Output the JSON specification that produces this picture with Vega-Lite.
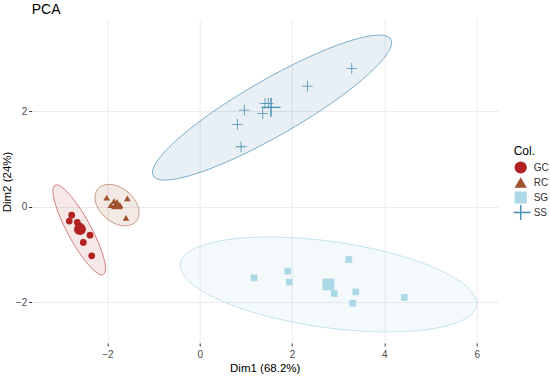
{
  "$schema": "https://vega.github.io/schema/vega-lite/v6.json",
  "autosize": {"type": "none"},
  "padding": {"left": 31.7, "top": 20, "right": 52.3, "bottom": 35},
  "width": 466,
  "height": 323,
  "background": "white",
  "view": {"stroke": null},
  "config": {
    "font": "Liberation Sans",
    "axis": {
      "domain": false,
      "grid": true,
      "gridColor": "#EBEBEB",
      "gridWidth": 1,
      "tickColor": "#333333",
      "tickSize": 3,
      "labelFont": "Liberation Sans",
      "labelFontSize": 10,
      "labelColor": "#4D4D4D",
      "titleFont": "Liberation Sans",
      "titleFontSize": 11.5,
      "titleFontWeight": "normal",
      "titleColor": "#000000"
    },
    "legend": {
      "titleFont": "Liberation Sans",
      "titleFontSize": 12,
      "titleFontWeight": "normal",
      "titleColor": "#000000",
      "labelFont": "Liberation Sans",
      "labelFontSize": 10,
      "labelColor": "#333333"
    }
  },
  "title": {
    "text": "PCA",
    "anchor": "start",
    "frame": "group",
    "font": "Liberation Sans",
    "fontSize": 14,
    "fontWeight": 400,
    "color": "#000000",
    "offset": 3
  },
  "datasets": {
    "ell": [
      {"group": "GC", "i": 0, "x": -2.088, "y": -1.417},
      {"group": "GC", "i": 1, "x": -2.041, "y": -1.301},
      {"group": "GC", "i": 2, "x": -2.082, "y": -1.060},
      {"group": "GC", "i": 3, "x": -2.203, "y": -0.732},
      {"group": "GC", "i": 4, "x": -2.386, "y": -0.365},
      {"group": "GC", "i": 5, "x": -2.604, "y": -0.016},
      {"group": "GC", "i": 6, "x": -2.822, "y": 0.262},
      {"group": "GC", "i": 7, "x": -3.009, "y": 0.427},
      {"group": "GC", "i": 8, "x": -3.134, "y": 0.453},
      {"group": "GC", "i": 9, "x": -3.181, "y": 0.337},
      {"group": "GC", "i": 10, "x": -3.140, "y": 0.096},
      {"group": "GC", "i": 11, "x": -3.019, "y": -0.232},
      {"group": "GC", "i": 12, "x": -2.836, "y": -0.599},
      {"group": "GC", "i": 13, "x": -2.618, "y": -0.948},
      {"group": "GC", "i": 14, "x": -2.400, "y": -1.226},
      {"group": "GC", "i": 15, "x": -2.214, "y": -1.391},
      {"group": "RC", "i": 0, "x": -1.378, "y": -0.302},
      {"group": "RC", "i": 1, "x": -1.319, "y": -0.172},
      {"group": "RC", "i": 2, "x": -1.331, "y": -0.011},
      {"group": "RC", "i": 3, "x": -1.414, "y": 0.158},
      {"group": "RC", "i": 4, "x": -1.554, "y": 0.308},
      {"group": "RC", "i": 5, "x": -1.731, "y": 0.417},
      {"group": "RC", "i": 6, "x": -1.917, "y": 0.467},
      {"group": "RC", "i": 7, "x": -2.083, "y": 0.452},
      {"group": "RC", "i": 8, "x": -2.206, "y": 0.374},
      {"group": "RC", "i": 9, "x": -2.265, "y": 0.244},
      {"group": "RC", "i": 10, "x": -2.253, "y": 0.083},
      {"group": "RC", "i": 11, "x": -2.170, "y": -0.086},
      {"group": "RC", "i": 12, "x": -2.030, "y": -0.236},
      {"group": "RC", "i": 13, "x": -1.853, "y": -0.345},
      {"group": "RC", "i": 14, "x": -1.667, "y": -0.395},
      {"group": "RC", "i": 15, "x": -1.501, "y": -0.380},
      {"group": "SG", "i": 0, "x": 5.996, "y": -2.060},
      {"group": "SG", "i": 1, "x": 5.802, "y": -1.684},
      {"group": "SG", "i": 2, "x": 5.148, "y": -1.301},
      {"group": "SG", "i": 3, "x": 4.136, "y": -0.966},
      {"group": "SG", "i": 4, "x": 2.917, "y": -0.731},
      {"group": "SG", "i": 5, "x": 1.678, "y": -0.633},
      {"group": "SG", "i": 6, "x": 0.610, "y": -0.686},
      {"group": "SG", "i": 7, "x": -0.129, "y": -0.881},
      {"group": "SG", "i": 8, "x": -0.422, "y": -1.190},
      {"group": "SG", "i": 9, "x": -0.228, "y": -1.566},
      {"group": "SG", "i": 10, "x": 0.427, "y": -1.950},
      {"group": "SG", "i": 11, "x": 1.438, "y": -2.284},
      {"group": "SG", "i": 12, "x": 2.658, "y": -2.519},
      {"group": "SG", "i": 13, "x": 3.896, "y": -2.617},
      {"group": "SG", "i": 14, "x": 4.964, "y": -2.564},
      {"group": "SG", "i": 15, "x": 5.702, "y": -2.369},
      {"group": "SS", "i": 0, "x": 4.141, "y": 3.507},
      {"group": "SS", "i": 1, "x": 4.061, "y": 3.203},
      {"group": "SS", "i": 2, "x": 3.601, "y": 2.729},
      {"group": "SS", "i": 3, "x": 2.833, "y": 2.155},
      {"group": "SS", "i": 4, "x": 1.870, "y": 1.569},
      {"group": "SS", "i": 5, "x": 0.861, "y": 1.059},
      {"group": "SS", "i": 6, "x": -0.039, "y": 0.706},
      {"group": "SS", "i": 7, "x": -0.695, "y": 0.561},
      {"group": "SS", "i": 8, "x": -1.007, "y": 0.647},
      {"group": "SS", "i": 9, "x": -0.927, "y": 0.951},
      {"group": "SS", "i": 10, "x": -0.467, "y": 1.426},
      {"group": "SS", "i": 11, "x": 0.301, "y": 1.999},
      {"group": "SS", "i": 12, "x": 1.265, "y": 2.586},
      {"group": "SS", "i": 13, "x": 2.273, "y": 3.095},
      {"group": "SS", "i": 14, "x": 3.173, "y": 3.448},
      {"group": "SS", "i": 15, "x": 3.829, "y": 3.593}
    ],
    "pts": [
      {"group": "GC", "kind": "ind", "x": -2.774, "y": -0.174},
      {"group": "GC", "kind": "ind", "x": -2.826, "y": -0.299},
      {"group": "GC", "kind": "ind", "x": -2.652, "y": -0.327},
      {"group": "GC", "kind": "ind", "x": -2.594, "y": -0.404},
      {"group": "GC", "kind": "ind", "x": -2.377, "y": -0.593},
      {"group": "GC", "kind": "ind", "x": -2.522, "y": -0.746},
      {"group": "GC", "kind": "ind", "x": -2.340, "y": -1.026},
      {"group": "RC", "kind": "ind", "x": -2.015, "y": 0.193},
      {"group": "RC", "kind": "ind", "x": -1.569, "y": 0.176},
      {"group": "RC", "kind": "ind", "x": -1.922, "y": 0.036},
      {"group": "RC", "kind": "ind", "x": -1.727, "y": 0.036},
      {"group": "RC", "kind": "ind", "x": -1.597, "y": -0.230},
      {"group": "RC", "kind": "ind", "x": -1.857, "y": 0.119},
      {"group": "SG", "kind": "ind", "x": 1.177, "y": -1.487},
      {"group": "SG", "kind": "ind", "x": 1.907, "y": -1.347},
      {"group": "SG", "kind": "ind", "x": 1.941, "y": -1.577},
      {"group": "SG", "kind": "ind", "x": 2.917, "y": -1.814},
      {"group": "SG", "kind": "ind", "x": 3.229, "y": -1.102},
      {"group": "SG", "kind": "ind", "x": 3.380, "y": -1.780},
      {"group": "SG", "kind": "ind", "x": 3.315, "y": -2.017},
      {"group": "SG", "kind": "ind", "x": 4.433, "y": -1.897},
      {"group": "SS", "kind": "ind", "x": 3.294, "y": 2.898},
      {"group": "SS", "kind": "ind", "x": 2.332, "y": 2.528},
      {"group": "SS", "kind": "ind", "x": 0.966, "y": 2.025},
      {"group": "SS", "kind": "ind", "x": 0.815, "y": 1.726},
      {"group": "SS", "kind": "ind", "x": 0.895, "y": 1.257},
      {"group": "SS", "kind": "ind", "x": 1.365, "y": 1.956},
      {"group": "SS", "kind": "ind", "x": 1.415, "y": 2.165},
      {"group": "SS", "kind": "ind", "x": 1.486, "y": 2.165},
      {"group": "GC", "kind": "mean", "x": -2.594, "y": -0.467},
      {"group": "RC", "kind": "mean", "x": -1.792, "y": 0.057},
      {"group": "SG", "kind": "mean", "x": 2.787, "y": -1.625},
      {"group": "SS", "kind": "mean", "x": 1.545, "y": 2.082}
    ]
  },
  "encoding": {
    "x": {
      "field": "x", "type": "quantitative",
      "scale": {"domain": [-3.64, 6.455], "nice": false, "zero": false},
      "axis": {"values": [-2, 0, 2, 4, 6], "title": "Dim1 (68.2%)", "labelPadding": 3, "titlePadding": 3}
    },
    "y": {
      "field": "y", "type": "quantitative",
      "scale": {"domain": [-2.85, 3.91], "nice": false, "zero": false},
      "axis": {"values": [-2, 0, 2], "title": "Dim2 (24%)", "labelPadding": 2, "titlePadding": 3}
    }
  },
  "layer": [
    {
      "data": {"name": "ell"},
      "transform": [{"filter": "datum.group === 'GC'"}],
      "mark": {"type": "line", "interpolate": "cardinal-closed", "fill": "#B22222", "fillOpacity": 0.1, "stroke": "#B22222", "strokeOpacity": 0.55, "strokeWidth": 1},
      "encoding": {"order": {"field": "i", "type": "quantitative"}}
    },
    {
      "data": {"name": "ell"},
      "transform": [{"filter": "datum.group === 'RC'"}],
      "mark": {"type": "line", "interpolate": "cardinal-closed", "fill": "#A0522D", "fillOpacity": 0.12, "stroke": "#A0522D", "strokeOpacity": 0.55, "strokeWidth": 1},
      "encoding": {"order": {"field": "i", "type": "quantitative"}}
    },
    {
      "data": {"name": "ell"},
      "transform": [{"filter": "datum.group === 'SG'"}],
      "mark": {"type": "line", "interpolate": "cardinal-closed", "fill": "#ADD8E6", "fillOpacity": 0.13, "stroke": "#ADD8E6", "strokeOpacity": 0.7, "strokeWidth": 1},
      "encoding": {"order": {"field": "i", "type": "quantitative"}}
    },
    {
      "data": {"name": "ell"},
      "transform": [{"filter": "datum.group === 'SS'"}],
      "mark": {"type": "line", "interpolate": "cardinal-closed", "fill": "#4A8DB5", "fillOpacity": 0.13, "stroke": "#4A8DB5", "strokeOpacity": 0.7, "strokeWidth": 1},
      "encoding": {"order": {"field": "i", "type": "quantitative"}}
    },
    {
      "data": {"values": [{"v": 0}]},
      "mark": {"type": "rule", "strokeDash": [3, 3], "color": "#333333", "strokeWidth": 0.8},
      "encoding": {"x": {"datum": 0, "type": "quantitative"}, "y": null}
    },
    {
      "data": {"values": [{"v": 0}]},
      "mark": {"type": "rule", "strokeDash": [3, 3], "color": "#333333", "strokeWidth": 0.8},
      "encoding": {"y": {"datum": 0, "type": "quantitative"}, "x": null}
    },
    {
      "data": {"name": "pts"},
      "mark": {"type": "point", "filled": true, "opacity": 1},
      "encoding": {
        "color": {"field": "group", "type": "nominal", "title": "Col.",
          "scale": {"domain": ["GC", "RC", "SG", "SS"], "range": ["#B22222", "#A0522D", "#ADD8E6", "#4A8DB5"]},
          "legend": {"orient": "none", "legendX": 482, "legendY": 126, "symbolSize": 150, "labelOffset": 6, "rowPadding": 0, "clipHeight": 15, "titlePadding": 2, "symbolOpacity": 1}},
        "shape": {"field": "group", "type": "nominal", "title": "Col.",
          "scale": {"domain": ["GC", "RC", "SG", "SS"], "range": ["circle", "triangle-up", "square", "M-1.6,-0.12H1.6V0.12H-1.6Z M-0.12,-1.6H0.12V1.6H-0.12Z"]},
          "legend": {"orient": "none", "legendX": 482, "legendY": 126, "symbolSize": 150, "labelOffset": 6, "rowPadding": 0, "clipHeight": 15, "titlePadding": 2, "symbolOpacity": 1}},
        "size": {"field": "kind", "type": "nominal", "legend": null,
          "scale": {"domain": ["ind", "mean"], "range": [45, 140]}}
      }
    }
  ]
}
